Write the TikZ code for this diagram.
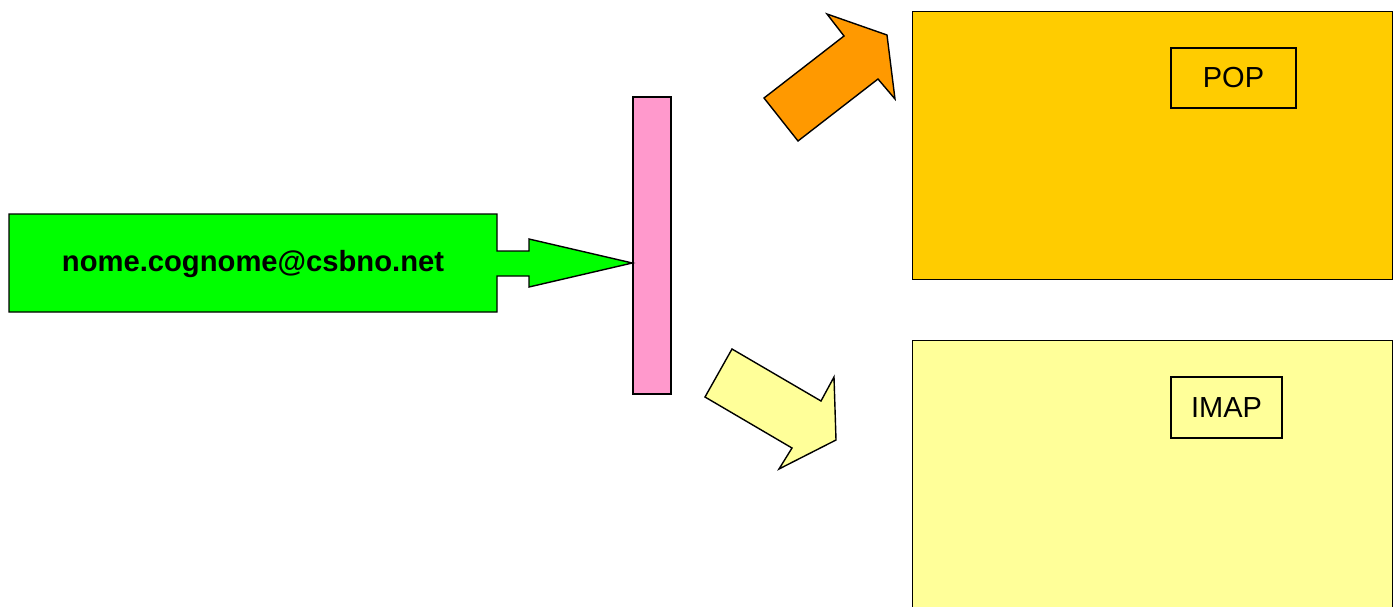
\documentclass[tikz,border=0pt]{standalone}
\usepackage{fontspec}
\setmainfont{Liberation Sans}
\definecolor{mygreen}{HTML}{00FF00}
\definecolor{mypink}{HTML}{FF99CC}
\definecolor{myorange}{HTML}{FF9900}
\definecolor{mygold}{HTML}{FFCC00}
\definecolor{myyellow}{HTML}{FFFF99}
\tikzset{
  outl/.style={draw=black, line width=1.4pt, line join=miter},
  panel/.style={outl, rectangle, inner sep=0pt, anchor=north west},
  lbl/.style={outl, rectangle, inner sep=0pt, font=\fontsize{29}{34}\selectfont},
}
\begin{document}
\begin{tikzpicture}[x=1pt,y=-1pt]
\useasboundingbox (0,0) rectangle (1393,606);
\clip (0,0) rectangle (1393,606);
% right panels
\node[panel, fill=mygold, minimum width=480pt, minimum height=268pt] (popbox) at (912,11) {};
\node[panel, fill=myyellow, minimum width=480pt, minimum height=300pt] (imapbox) at (912,340) {};
\node[lbl, fill=mygold, minimum width=125pt, minimum height=60pt] (pop) at (1233.5,78) {POP};
\node[lbl, fill=myyellow, minimum width=111pt, minimum height=61pt] (imap) at (1226.5,407.5) {IMAP};
% pink bar
\node[outl, fill=mypink, rectangle, inner sep=0pt, minimum width=38pt, minimum height=297pt] (bar) at (652,245.5) {};
% green block arrow with address
\draw[outl, fill=mygreen] (9,214) -- (497,214) -- (497,251) -- (529,251) -- (529,239)
  -- (bar.west |- 0,263) -- (529,287) -- (529,276) -- (497,276) -- (497,312) -- (9,312) -- cycle;
\node[font=\fontsize{29.2}{34}\selectfont\bfseries] (addr) at (253,264) {nome.cognome@csbno.net};
% orange arrow towards POP
\draw[outl, fill=myorange] (764,98) -- (844,36) -- (827,14) -- (887,35) -- (895,99)
  -- (878,79) -- (798,141) -- cycle;
% yellow arrow towards IMAP
\draw[outl, fill=myyellow] (705,397) -- (732,349) -- (821,401) -- (834,377) -- (836,440)
  -- (779,469) -- (792,448) -- cycle;
\end{tikzpicture}
\end{document}
